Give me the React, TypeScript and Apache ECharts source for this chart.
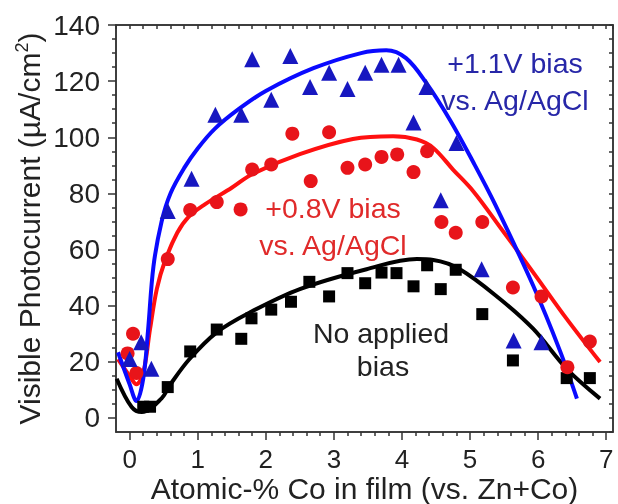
import React, { useEffect, useRef } from "react";
import * as echarts from "echarts";

// Measured points
const blueTriangles: number[][] = [
  [0.0, 21], [0.17, 27], [0.32, 17.5], [0.56, 73.7], [0.91, 85.2], [1.26, 108], [1.64, 108],
  [1.8, 127.8], [2.08, 113.4], [2.36, 129], [2.65, 117.9], [2.93, 123], [3.2, 117.2],
  [3.46, 123], [3.7, 125.8], [3.95, 125.8], [4.17, 105.3], [4.36, 117.9], [4.57, 77.6],
  [4.8, 98], [5.17, 53], [5.64, 27.6], [6.05, 27],
];
const redCircles: number[][] = [
  [-0.03, 23], [0.05, 30], [0.1, 16], [0.56, 56.6], [0.89, 74.1], [1.28, 76.9], [1.63, 74.3],
  [1.8, 88.5], [2.08, 90.3], [2.39, 101.3], [2.66, 84.4], [2.93, 101.8], [3.2, 89.1],
  [3.46, 90.3], [3.7, 93], [3.93, 93.9], [4.17, 87.6], [4.37, 95], [4.58, 69.8], [4.79, 66],
  [5.18, 69.8], [5.63, 46.5], [6.05, 43.3], [6.43, 18.1], [6.76, 27.2],
];
const blackSquares: number[][] = [
  [0.2, 4], [0.3, 4], [0.56, 11], [0.89, 23.7], [1.28, 31.5], [1.64, 28.2], [1.79, 35.5],
  [2.08, 38.6], [2.37, 41.4], [2.64, 48.5], [2.93, 43.3], [3.2, 51.6], [3.46, 48], [3.7, 51.8],
  [3.92, 51.6], [4.17, 46.9], [4.37, 54.4], [4.57, 45.9], [4.79, 52.8], [5.18, 37], [5.63, 20.5],
  [6.42, 14.2], [6.76, 14.2],
];

// Fitted curves
const blueFit: number[][] = [
  [-0.17, 23.4], [0.0, 12], [0.1, 6], [0.2, 14], [0.27, 31], [0.35, 54], [0.47, 70],
  [0.6, 80], [0.8, 89], [1.0, 96], [1.25, 103], [1.6, 110], [2.0, 116.5], [2.7, 124.6],
  [3.4, 130], [3.77, 131], [4.06, 128.2], [4.36, 119.3], [4.71, 106], [5.05, 91],
  [5.37, 76], [5.93, 47], [6.32, 24], [6.57, 6.9],
];
const redFit: number[][] = [
  [-0.17, 21], [0.0, 15], [0.1, 12], [0.2, 16], [0.3, 31.7], [0.4, 46], [0.52, 56],
  [0.7, 66], [0.86, 71.5], [1.1, 76], [1.5, 82], [1.81, 87], [2.5, 94], [3.28, 99.4],
  [3.87, 100.4], [4.22, 99.2], [4.46, 96.2], [4.75, 88.5], [5.05, 80.7], [5.44, 68],
  [5.93, 51.8], [6.42, 35.3], [6.91, 19.9],
];
const blackFit: number[][] = [
  [-0.19, 14], [0.03, 3.9], [0.18, 2.1], [0.47, 7], [0.6, 12], [0.88, 21], [1.28, 30.5],
  [1.76, 37.5], [2.5, 45.9], [3.48, 53], [4.22, 56.6], [4.46, 56.3], [4.85, 53],
  [5.44, 42.4], [5.93, 31.7], [6.42, 17.5], [6.91, 6.9],
];

const xMajor = [0, 1, 2, 3, 4, 5, 6, 7];
const yMajor = [0, 20, 40, 60, 80, 100, 120, 140];

const FONT = "'Liberation Sans', Arial, sans-serif";
const AXIS_COLOR = "#333";

export default function App() {
  const ref = useRef<HTMLDivElement>(null);
  useEffect(() => {
    if (!ref.current) return;
    const chart = echarts.init(ref.current, undefined, { renderer: "svg" });
    const mkLine = () => ({ show: true, onZero: false, lineStyle: { color: AXIS_COLOR, width: 1.5 } });
    const tickStyle = () => ({ color: AXIS_COLOR, width: 1.5 });
    const annot = (text: string, x: number, y: number, fill: string) => ({
      type: "text", x, y,
      style: { text, fill, fontSize: 28.5, fontFamily: FONT, align: "center", verticalAlign: "middle", textAlign: "center", textVerticalAlign: "middle" },
    });
    chart.setOption({
      animation: false,
      grid: { left: 116, right: 5, top: 25, bottom: 72, outerBoundsMode: "none", show: true, borderColor: AXIS_COLOR, borderWidth: 1.5, backgroundColor: "transparent" },
      xAxis: [
        {
          type: "value", min: -0.2, max: 7.1, splitNumber: 7, position: "bottom", splitLine: { show: false },
          axisLine: mkLine(),
          axisTick: { show: true, inside: false, length: 8, customValues: xMajor, lineStyle: tickStyle() },
          minorTick: { show: true, splitNumber: 5, length: 4, lineStyle: tickStyle() },
          minorSplitLine: { show: false },
          axisLabel: { show: true, customValues: xMajor, margin: 14, fontSize: 26, color: "#222", fontFamily: FONT },
          name: "Atomic-% Co in film (vs. Zn+Co)", nameLocation: "middle", nameGap: 41, nameMoveOverlap: false,
          nameTextStyle: { fontSize: 30, color: "#222", fontFamily: FONT },
        },
        {
          type: "value", min: -0.2, max: 7.1, position: "top", interval: 0.2, splitLine: { show: false },
          axisLine: mkLine(),
          axisTick: { show: true, inside: true, length: 4, lineStyle: tickStyle() },
          axisLabel: { show: false },
        },
      ],
      yAxis: [
        {
          type: "value", min: -5, max: 140, splitNumber: 7, position: "left", splitLine: { show: false },
          axisLine: mkLine(),
          axisTick: { show: true, inside: false, length: 8, customValues: yMajor, lineStyle: tickStyle() },
          minorTick: { show: true, splitNumber: 4, length: 4, lineStyle: tickStyle() },
          minorSplitLine: { show: false },
          axisLabel: { show: true, customValues: yMajor, margin: 16, fontSize: 28, color: "#222", fontFamily: FONT },
          name: "Visible Photocurrent (µA/cm{sup|2})", nameLocation: "middle", nameGap: 71, nameRotate: 90, nameMoveOverlap: false,
          nameTextStyle: {
            fontSize: 30, color: "#222", fontFamily: FONT,
            rich: { sup: { fontSize: 18, color: "#222", fontFamily: FONT, verticalAlign: "top", padding: [0, 0, 14, 0] } },
          },
        },
        {
          type: "value", min: -5, max: 140, position: "right", interval: 5, splitLine: { show: false },
          axisLine: mkLine(),
          axisTick: { show: true, inside: true, length: 4, lineStyle: tickStyle() },
          axisLabel: { show: false },
        },
      ],
      series: [
        { type: "line", data: blackFit, smooth: 0.35, showSymbol: false, lineStyle: { color: "#000", width: 4 }, z: 2 },
        { type: "line", data: redFit, smooth: 0.35, showSymbol: false, lineStyle: { color: "#ff1010", width: 4 }, z: 2 },
        { type: "line", data: blueFit, smooth: 0.35, showSymbol: false, lineStyle: { color: "#0a0aff", width: 4 }, z: 2 },
        { type: "scatter", data: blackSquares, symbol: "rect", symbolSize: 12, itemStyle: { color: "#000", opacity: 1 }, z: 3 },
        { type: "scatter", data: redCircles, symbol: "circle", symbolSize: 14, itemStyle: { color: "#e8141a", opacity: 1 }, z: 3 },
        { type: "scatter", data: blueTriangles, symbol: "triangle", symbolSize: 16, itemStyle: { color: "#1717c0", opacity: 1 }, z: 3 },
      ],
      graphic: [
        annot("+1.1V bias", 515, 63, "#2727a8"),
        annot("vs. Ag/AgCl", 515, 100, "#2727a8"),
        annot("+0.8V bias", 333, 208, "#e02a2a"),
        annot("vs. Ag/AgCl", 333, 245, "#e02a2a"),
        annot("No applied", 381, 333, "#222"),
        annot("bias", 383, 366, "#222"),
      ],
    });
    return () => chart.dispose();
  }, []);
  return <div ref={ref} style={{ position: "fixed", left: 0, top: 0, width: 618, height: 504 }} />;
}
